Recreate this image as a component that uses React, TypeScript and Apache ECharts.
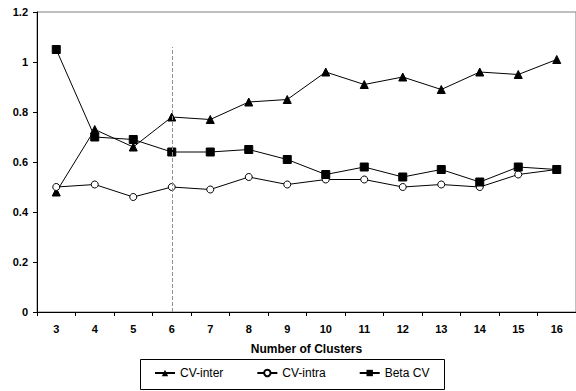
import React, { useEffect, useRef } from "react";
import * as echarts from "echarts";

const clusters = ["3", "4", "5", "6", "7", "8", "9", "10", "11", "12", "13", "14", "15", "16"];
const cvInter = [0.48, 0.73, 0.66, 0.78, 0.77, 0.84, 0.85, 0.96, 0.91, 0.94, 0.89, 0.96, 0.95, 1.01];
const cvIntra = [0.5, 0.51, 0.46, 0.5, 0.49, 0.54, 0.51, 0.53, 0.53, 0.5, 0.51, 0.5, 0.55, 0.57];
const betaCV = [1.05, 0.7, 0.69, 0.64, 0.64, 0.65, 0.61, 0.55, 0.58, 0.54, 0.57, 0.52, 0.58, 0.57];
const markerCluster = "6";
const markerTop = 1.06;

const FONT = "'Liberation Sans', Arial, sans-serif";

export default function App() {
  const ref = useRef<HTMLDivElement>(null);
  useEffect(() => {
    if (!ref.current) return;
    const chart = echarts.init(ref.current, undefined, { renderer: "svg" });
    const lineStyle = { color: "#000", width: 1 };
    chart.setOption({
      animation: false,
      backgroundColor: "#fff",
      textStyle: { fontFamily: FONT },
      grid: {
        left: 37,
        top: 12,
        right: -3,
        bottom: 79,
        show: true,
        borderColor: "#808080",
        borderWidth: 1,
        backgroundColor: "transparent",
      },
      xAxis: {
        type: "category",
        data: clusters,
        boundaryGap: true,
        name: "Number of Clusters",
        nameLocation: "middle",
        nameGap: 31,
        nameTextStyle: { fontFamily: FONT, fontWeight: "bold", fontSize: 12, color: "#000" },
        axisLine: { lineStyle: { color: "#000", width: 1 } },
        axisTick: { show: true, length: 4, lineStyle: { color: "#000" } },
        axisLabel: { fontFamily: FONT, fontWeight: "bold", fontSize: 11, color: "#000", margin: 11 },
        splitLine: { show: false },
      },
      yAxis: {
        type: "value",
        min: 0,
        max: 1.2,
        interval: 0.2,
        axisLine: { show: true, lineStyle: { color: "#000", width: 1 } },
        axisTick: { show: true, length: 4, lineStyle: { color: "#000" } },
        axisLabel: { fontFamily: FONT, fontWeight: "bold", fontSize: 11, color: "#000", margin: 9 },
        splitLine: { show: false },
      },
      legend: {
        left: 154,
        top: 367,
        padding: 0,
        itemWidth: 20,
        itemHeight: 8,
        itemGap: 33,
        textStyle: { fontFamily: FONT, fontSize: 12, color: "#000" },
        data: ["CV-inter", "CV-intra", "Beta CV"],
      },
      graphic: [
        {
          type: "rect",
          shape: { x: 140.5, y: 359.5, width: 304, height: 30 },
          style: { fill: "none", stroke: "#000", lineWidth: 1 },
          silent: true,
        },
      ],
      series: [
        {
          name: "CV-inter",
          type: "line",
          data: cvInter,
          symbol: "triangle",
          symbolSize: 8,
          itemStyle: { color: "#000", borderColor: "#000" },
          lineStyle,
          markLine: {
            silent: true,
            symbol: "none",
            label: { show: false },
            lineStyle: { color: "#909090", type: "dashed", width: 1 },
            data: [[{ coord: [markerCluster, 0] }, { coord: [markerCluster, markerTop] }]],
          },
        },
        {
          name: "CV-intra",
          type: "line",
          data: cvIntra,
          symbol: "circle",
          symbolSize: 7,
          itemStyle: { color: "#fff", borderColor: "#000", borderWidth: 1 },
          lineStyle,
        },
        {
          name: "Beta CV",
          type: "line",
          data: betaCV,
          symbol: "rect",
          symbolSize: 8,
          itemStyle: { color: "#000", borderColor: "#000" },
          lineStyle,
        },
      ],
    });
    return () => chart.dispose();
  }, []);
  return (
    <div
      ref={ref}
      style={{ position: "fixed", left: 0, top: 0, width: 576, height: 391, background: "#fff" }}
    />
  );
}
